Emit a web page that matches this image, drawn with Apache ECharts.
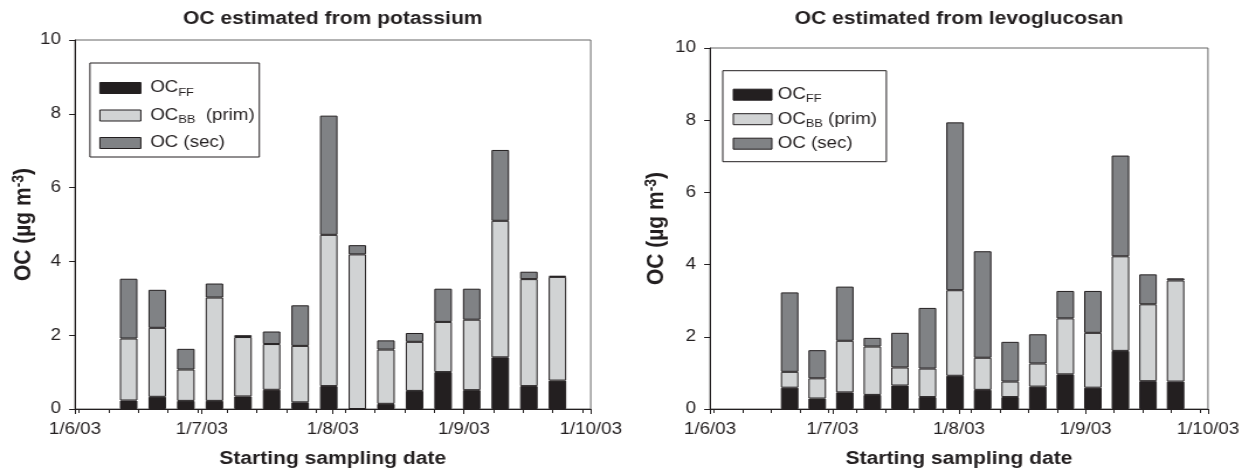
<!DOCTYPE html>
<html><head><meta charset="utf-8">
<script src="https://cdn.jsdelivr.net/npm/echarts@6/dist/echarts.min.js"></script>
<style>
html,body{margin:0;padding:0;background:#fff;overflow:hidden;}
#wrap{width:1242px;height:470px;overflow:hidden;}
#chart{width:1062px;height:470px;transform:scaleX(1.1695);transform-origin:0 0;}
</style></head><body>
<div id="wrap"><div id="chart"></div></div>
<script>
// ---- data ----
const tickLabels = ['1/6/03', '1/7/03', '1/8/03', '1/9/03', '1/10/03'];
const tickDates  = ['2003-06-01', '2003-07-01', '2003-08-01', '2003-09-01', '2003-10-01'];

// OC estimated from potassium
const datesK = ['2003-06-12','2003-06-19','2003-06-26','2003-07-03','2003-07-10','2003-07-17','2003-07-24','2003-07-31',
                '2003-08-07','2003-08-14','2003-08-21','2003-08-28','2003-09-04','2003-09-11','2003-09-18','2003-09-25'];
const ffK  = [0.23, 0.33, 0.22, 0.22, 0.34, 0.52, 0.18, 0.62, 0.00, 0.14, 0.49, 1.00, 0.51, 1.40, 0.62, 0.77];
const bbK  = [1.68, 1.87, 0.85, 2.80, 1.61, 1.24, 1.53, 4.10, 4.19, 1.47, 1.33, 1.36, 1.91, 3.70, 2.90, 2.81];
const secK = [1.62, 1.03, 0.56, 0.38, 0.05, 0.34, 1.10, 3.23, 0.25, 0.25, 0.24, 0.90, 0.84, 1.92, 0.20, 0.03];

// OC estimated from levoglucosan
const datesL = ['2003-06-19','2003-06-26','2003-07-03','2003-07-10','2003-07-17','2003-07-24','2003-07-31',
                '2003-08-07','2003-08-14','2003-08-21','2003-08-28','2003-09-04','2003-09-11','2003-09-18','2003-09-25'];
const ffL  = [0.59, 0.29, 0.46, 0.39, 0.65, 0.33, 0.92, 0.53, 0.33, 0.62, 0.96, 0.59, 1.61, 0.77, 0.76];
const bbL  = [0.44, 0.56, 1.43, 1.34, 0.50, 0.79, 2.37, 0.89, 0.43, 0.64, 1.55, 1.52, 2.62, 2.13, 2.80];
const secL = [2.20, 0.78, 1.50, 0.24, 0.96, 1.68, 4.65, 2.95, 1.10, 0.81, 0.76, 1.16, 2.79, 0.83, 0.06];

const seriesNames = ['OC_FF', 'OC_BB (prim)', 'OC (sec)'];
const titles = ['OC estimated from potassium', 'OC estimated from levoglucosan'];

// ---- helpers ----
const DAY = 86400000;
function ts(s) { return Date.UTC(+s.slice(0, 4), +s.slice(5, 7) - 1, +s.slice(8, 10)); }
const t0 = ts(tickDates[0]);
function day(s) { return (ts(s) - t0) / DAY; }
const majorDays = tickDates.map(day);
const axisMax = majorDays[majorDays.length - 1];
const minorDays = [];
for (let d = day('2003-06-02'); d < axisMax; d += 7) minorDays.push(d);

const INK = '#231f20';
const FONT = 'Liberation Sans, Arial, sans-serif';
const colors = ['#231f20', '#d1d3d4', '#808285'];

const grids = [
  { left: 64.1, top: 40, width: 441, height: 369 },
  { left: 607.1, top: 48, width: 425.8, height: 361 }
];

// hidden time axis that places the bars
function timeX(gi) {
  return {
    type: 'time', gridIndex: gi, position: 'bottom',
    min: ts(tickDates[0]), max: ts(tickDates[tickDates.length - 1]),
    axisLine: { show: false }, axisTick: { show: false }, axisLabel: { show: false },
    splitLine: { show: false }
  };
}
// visible axis with month ticks and labels
function majorX(gi) {
  return {
    type: 'value', gridIndex: gi, position: 'bottom', min: 0, max: axisMax,
    name: 'Starting sampling date', nameLocation: 'middle', nameGap: 41,
    nameTextStyle: { fontFamily: FONT, fontWeight: 'bold', fontSize: 18, color: INK },
    axisLine: { show: true, lineStyle: { color: INK, width: 1 } },
    axisTick: { show: true, customValues: majorDays, length: 5, lineStyle: { color: INK } },
    axisLabel: {
      show: true, customValues: majorDays, margin: 13,
      fontFamily: FONT, fontSize: 16, color: INK,
      formatter: v => tickLabels[majorDays.indexOf(v)]
    },
    splitLine: { show: false }
  };
}
// weekly minor ticks
function minorX(gi) {
  return {
    type: 'value', gridIndex: gi, position: 'bottom', min: 0, max: axisMax,
    axisLine: { show: false },
    axisTick: { show: true, customValues: minorDays, length: 4, lineStyle: { color: INK } },
    axisLabel: { show: false },
    splitLine: { show: false }
  };
}
function yAx(gi, gap) {
  return {
    type: 'value', gridIndex: gi, min: 0, max: 10, interval: 2,
    name: '{a|OC (µg m}{b|-3}{a|)}', nameLocation: 'middle', nameGap: gap,
    nameTextStyle: {
      rich: {
        a: { fontFamily: FONT, fontWeight: 'bold', fontSize: 21, color: INK, lineHeight: 22 },
        b: { fontFamily: FONT, fontWeight: 'bold', fontSize: 14, color: INK, verticalAlign: 'top' }
      }
    },
    axisLine: { show: true, lineStyle: { color: INK, width: 1 } },
    axisTick: { show: true, length: 5, lineStyle: { color: INK } },
    axisLabel: { show: true, margin: 12, fontFamily: FONT, fontSize: 16, color: INK },
    splitLine: { show: false }
  };
}

function makeSeries(dates, arrs, xi, yi, stack) {
  return arrs.map((arr, k) => ({
    name: seriesNames[k], type: 'bar', stack: stack,
    xAxisIndex: xi, yAxisIndex: yi, barWidth: 15,
    itemStyle: { color: colors[k], borderColor: INK, borderWidth: 1 },
    data: dates.map((d, i) => [ts(d), arr[i]])
  }));
}

function legend(left, top, padding, itemWidth, itemGap, padA, twoSpaces) {
  const map = {
    'OC_FF': '{a|OC}{s|FF}',
    'OC_BB (prim)': '{a|OC}{s|BB}{p|' + (twoSpaces ? '  (prim)' : ' (prim)') + '}',
    'OC (sec)': '{a|OC (sec)}'
  };
  return {
    orient: 'vertical', left: left, top: top, padding: padding,
    itemWidth: itemWidth, itemHeight: 11, itemGap: itemGap, icon: 'rect',
    borderColor: INK, borderWidth: 1, backgroundColor: '#fff', borderRadius: 0,
    data: seriesNames,
    itemStyle: { borderWidth: 1, borderColor: INK },
    selectedMode: false,
    formatter: n => map[n],
    textStyle: {
      fontFamily: FONT, fontSize: 16, color: INK,
      rich: {
        a: { fontFamily: FONT, fontSize: 16, color: INK, lineHeight: 20, padding: [0, 0, 0, padA] },
        s: { fontFamily: FONT, fontSize: 11, color: INK, verticalAlign: 'bottom' },
        p: { fontFamily: FONT, fontSize: 16, color: INK, lineHeight: 20 }
      }
    }
  };
}

const chart = echarts.init(document.getElementById('chart'), null, { renderer: 'canvas' });
chart.setOption({
  animation: false,
  backgroundColor: '#fff',
  title: titles.map((t, i) => ({
    text: t, left: grids[i].left + grids[i].width / 2, top: 10, textAlign: 'center', padding: 0,
    textStyle: { fontFamily: FONT, fontWeight: 'bold', fontSize: 18, color: INK }
  })),
  grid: grids.map(g => Object.assign({ show: true, borderColor: '#666', borderWidth: 1, backgroundColor: 'transparent', containLabel: false, outerBoundsMode: 'none' }, g)),
  legend: [
    legend(76.9, 63, [17, 4, 6, 8], 35, 9.5, 3, true),
    legend(618, 70.7, [16, 8, 10, 8.5], 33, 6.5, 0, false)
  ],
  xAxis: [timeX(0), majorX(0), minorX(0), timeX(1), majorX(1), minorX(1)],
  yAxis: [yAx(0, 33), yAx(1, 35)],
  series: [].concat(
    makeSeries(datesK, [ffK, bbK, secK], 0, 0, 'K'),
    makeSeries(datesL, [ffL, bbL, secL], 3, 1, 'L')
  )
});
</script>
</body></html>
